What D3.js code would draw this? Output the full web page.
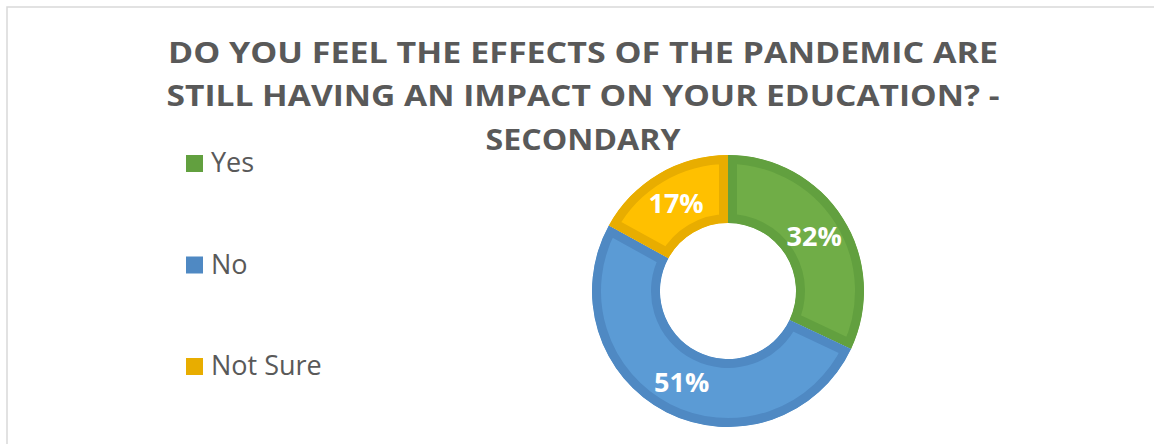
<!DOCTYPE html>
<html><head><meta charset="utf-8">
<script src="https://cdn.jsdelivr.net/npm/d3@7"></script>
<style>html,body{margin:0;padding:0;background:#fff;}svg{display:block;}</style>
</head><body>
<svg id="chart" width="1154" height="444"></svg>
<script>
const categories = ["Yes", "No", "Not Sure"];
const values = [32, 51, 17];
const fillColors = ["#70AD47", "#5B9BD5", "#FFC000"];
const edgeColors = ["#62A03F", "#4F89C3", "#E8AD00"];
const titleLines = ["DO YOU FEEL THE EFFECTS OF THE PANDEMIC ARE", "STILL HAVING AN IMPACT ON YOUR EDUCATION? -", "SECONDARY"];

const svg = d3.select("#chart");
const W = 1154, H = 444;

// chart area border
svg.append("rect").attr("x", 7).attr("y", 7).attr("width", W + 10).attr("height", H + 10)
  .attr("fill", "#fff").attr("stroke", "#D9D9D9").attr("stroke-width", 1.5);

// title
const titleX = 583;
const titleBase = [63, 106, 150];
const titleLen = [830, 833, 195];
const tg = svg.append("g");
titleLines.forEach((t, i) => {
  tg.append("text").attr("x", titleX).attr("y", titleBase[i])
    .attr("text-anchor", "middle")
    .style("font-family", "'Open Sans', sans-serif").style("font-weight", 700)
    .style("font-size", "29px").attr("fill", "#595959").text(t)
    .attr("textLength", titleLen[i]).attr("lengthAdjust", "spacingAndGlyphs");
});

// legend
const legY = d3.scalePoint().domain(categories).range([172, 375]);
const color = d3.scaleOrdinal().domain(categories).range(edgeColors);
const leg = svg.append("g");
categories.forEach(c => {
  leg.append("rect").attr("x", 186).attr("y", legY(c) - 17).attr("width", 17).attr("height", 17)
    .attr("fill", color(c));
  leg.append("text").attr("x", 211).attr("y", legY(c))
    .style("font-family", "'Open Sans', sans-serif").style("font-size", "27px")
    .attr("fill", "#595959").text(c);
});

// donut
const cx = 728, cy = 291, rOut = 136, rIn = 68;
const pie = d3.pie().sort(null).value(d => d.v);
const arcs = pie(categories.map((c, i) => ({c, v: values[i], i})));
const arc = d3.arc().innerRadius(rIn).outerRadius(rOut);
const g = svg.append("g").attr("transform", `translate(${cx},${cy})`);
const defs = svg.append("defs");
arcs.forEach((a, k) => {
  defs.append("clipPath").attr("id", "clip" + k).append("path").attr("d", arc(a));
  g.append("path").attr("d", arc(a)).attr("fill", fillColors[a.data.i])
    .attr("stroke", edgeColors[a.data.i]).attr("stroke-width", 18)
    .attr("stroke-linejoin", "miter")
    .attr("clip-path", `url(#clip${k})`);
});
arcs.forEach(a => {
  const [x, y] = arc.centroid(a);
  g.append("text").attr("x", x).attr("y", y).attr("dy", "0.36em")
    .attr("text-anchor", "middle")
    .style("font-family", "'Open Sans', sans-serif").style("font-weight", 700)
    .style("font-size", "27px").attr("fill", "#fff")
    .text(Math.round(a.data.v) + "%");
});
</script>
</body></html>
